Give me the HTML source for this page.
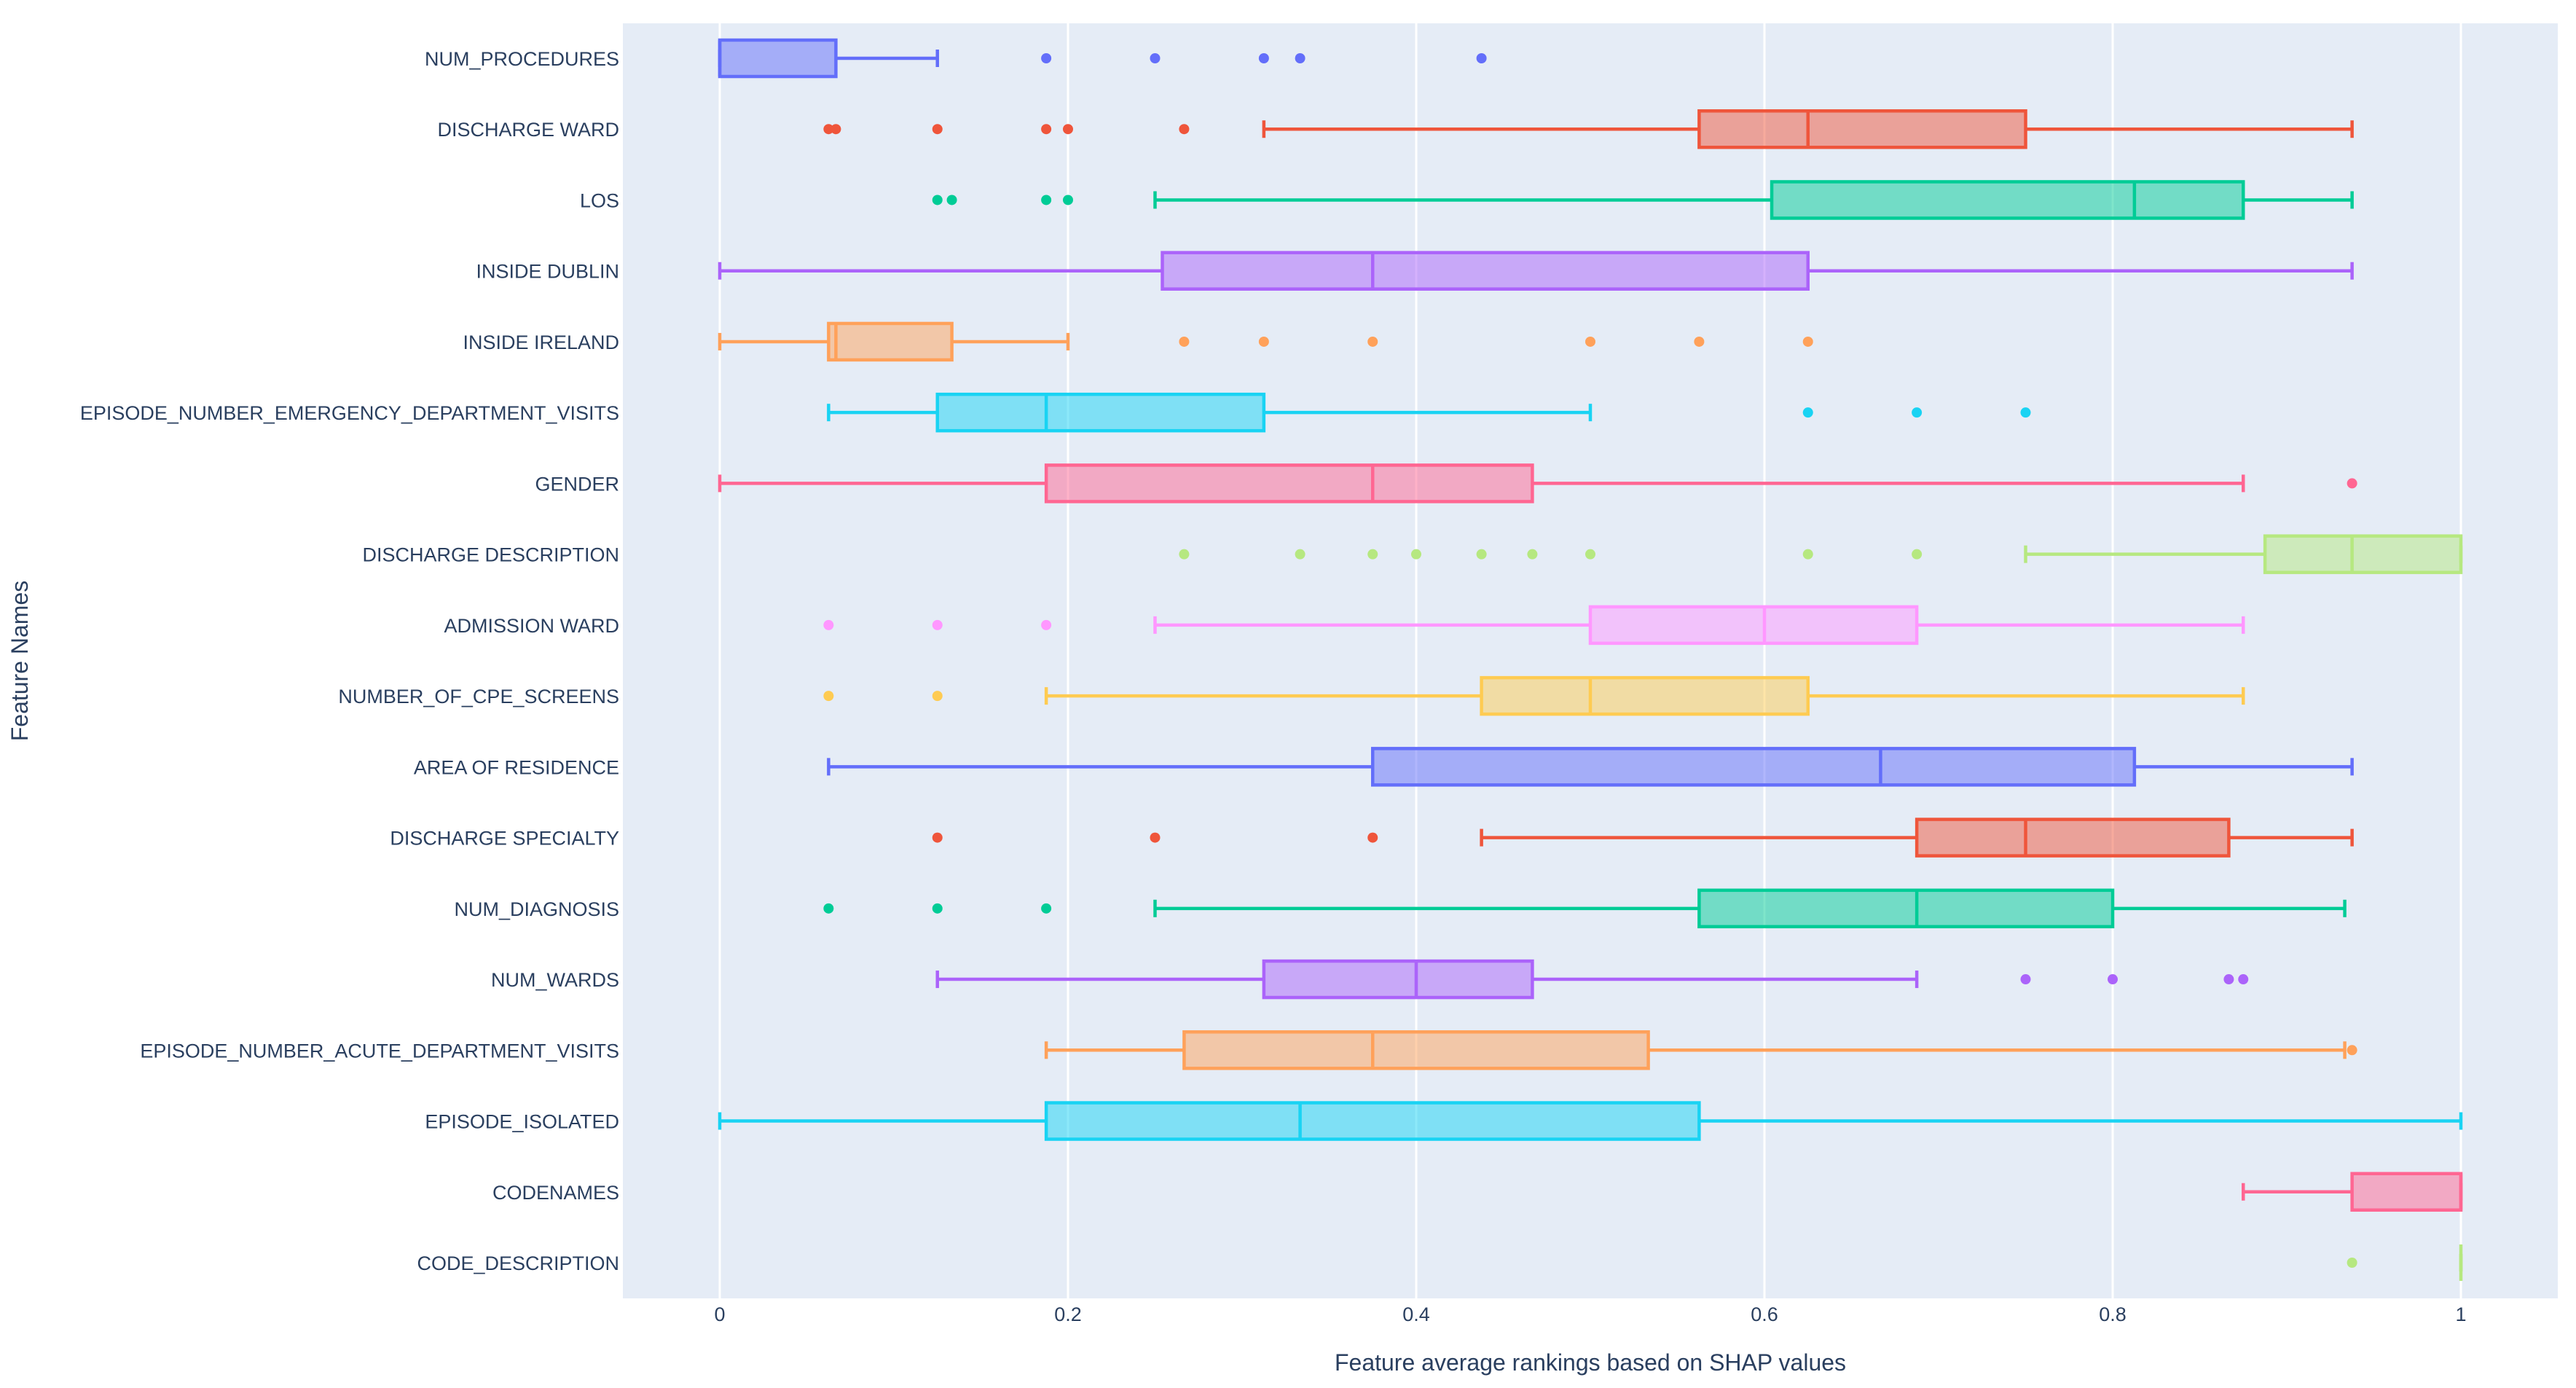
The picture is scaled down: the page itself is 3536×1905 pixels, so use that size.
<!DOCTYPE html>
<html><head><meta charset="utf-8">
<style>
html,body{margin:0;padding:0;background:#fff;}
svg{display:block;font-family:"Liberation Sans",Arial,sans-serif;}
</style></head>
<body>
<svg id="chart" width="3536" height="1905" viewBox="0 0 3536 1905" xmlns="http://www.w3.org/2000/svg">
<rect x="855" y="32" width="2656" height="1750" fill="#e5ecf6"/>
<g id="grid"></g>
<g id="boxes"></g>
<g id="ylabels"></g>
<g id="xticks"></g>
<text x="2183" y="1881" font-size="32" fill="#2a3f5f" text-anchor="middle">Feature average rankings based on SHAP values</text>
<text x="0" y="0" font-size="32" fill="#2a3f5f" text-anchor="middle" transform="translate(38,907) rotate(-90)">Feature Names</text>
</svg>
<script>
const features = ["NUM_PROCEDURES","DISCHARGE WARD","LOS","INSIDE DUBLIN","INSIDE IRELAND","EPISODE_NUMBER_EMERGENCY_DEPARTMENT_VISITS","GENDER","DISCHARGE DESCRIPTION","ADMISSION WARD","NUMBER_OF_CPE_SCREENS","AREA OF RESIDENCE","DISCHARGE SPECIALTY","NUM_DIAGNOSIS","NUM_WARDS","EPISODE_NUMBER_ACUTE_DEPARTMENT_VISITS","EPISODE_ISOLATED","CODENAMES","CODE_DESCRIPTION"];
const q1 =     [0,0.5625,0.6042,0.2542,0.0625,0.125,0.1875,0.8875,0.5,0.4375,0.375,0.6875,0.5625,0.3125,0.2667,0.1875,0.9375,1];
const median = [0,0.625,0.8125,0.375,0.0667,0.1875,0.375,0.9375,0.6,0.5,0.6667,0.75,0.6875,0.4,0.375,0.3333,1,1];
const q3 =     [0.0667,0.75,0.875,0.625,0.1333,0.3125,0.4667,1,0.6875,0.625,0.8125,0.8667,0.8,0.4667,0.5333,0.5625,1,1];
const lowerFence = [0,0.3125,0.25,0,0,0.0625,0,0.75,0.25,0.1875,0.0625,0.4375,0.25,0.125,0.1875,0,0.875,1];
const upperFence = [0.125,0.9375,0.9375,0.9375,0.2,0.5,0.875,1,0.875,0.875,0.9375,0.9375,0.9333,0.6875,0.9333,1,1,1];
const outliers = [
 [0.1875,0.25,0.3125,0.3333,0.4375],
 [0.0625,0.0667,0.125,0.1875,0.2,0.2667],
 [0.125,0.1333,0.1875,0.2],
 [],
 [0.2667,0.3125,0.375,0.5,0.5625,0.625],
 [0.625,0.6875,0.75],
 [0.9375],
 [0.2667,0.3333,0.375,0.4,0.4375,0.4667,0.5,0.625,0.6875],
 [0.0625,0.125,0.1875],
 [0.0625,0.125],
 [],
 [0.125,0.25,0.375],
 [0.0625,0.125,0.1875],
 [0.75,0.8,0.8667,0.875],
 [0.9375],
 [],
 [],
 [0.9375]
];
const xTicks = [0,0.2,0.4,0.6,0.8,1];
const xTickLabels = ["0","0.2","0.4","0.6","0.8","1"];
const colors = ["#636efa","#EF553B","#00cc96","#ab63fa","#FFA15A","#19d3f3","#FF6692","#B6E880","#FF97FF","#FECB52"];

const NS="http://www.w3.org/2000/svg";
const X = v => 988 + v*(3378-988);
const Y = i => 80 + i*(1733-80)/17;
function mk(tag, attrs, parent){const e=document.createElementNS(NS,tag);for(const k in attrs)e.setAttribute(k,attrs[k]);parent.appendChild(e);return e;}
const grid=document.getElementById('grid'), boxes=document.getElementById('boxes'), yl=document.getElementById('ylabels'), xt=document.getElementById('xticks');

xTicks.forEach((t,i)=>{
  const g=mk('line',{x1:X(t),x2:X(t),y1:32,y2:1782,stroke:'#fff','stroke-width':3},grid);
  
  
  const tx=mk('text',{x:X(t),y:1813,'font-size':27,fill:'#2a3f5f','text-anchor':'middle'},xt);
  tx.textContent=xTickLabels[i];
  
  
});

features.forEach((f,i)=>{
  const y=Y(i), c=colors[i%colors.length], h=25, cap=12;
  const lab=mk('text',{x:850,y:y+10,'font-size':27,fill:'#2a3f5f','text-anchor':'end'},yl);
  lab.textContent=f;
  
  
  const g=mk('g',{},boxes);
  
  
  const sw=4.5;
  mk('line',{x1:X(lowerFence[i]),x2:X(q1[i]),y1:y,y2:y,stroke:c,'stroke-width':sw},g);
  mk('line',{x1:X(q3[i]),x2:X(upperFence[i]),y1:y,y2:y,stroke:c,'stroke-width':sw},g);
  mk('line',{x1:X(lowerFence[i]),x2:X(lowerFence[i]),y1:y-cap,y2:y+cap,stroke:c,'stroke-width':sw},g);
  mk('line',{x1:X(upperFence[i]),x2:X(upperFence[i]),y1:y-cap,y2:y+cap,stroke:c,'stroke-width':sw},g);
  mk('rect',{x:X(q1[i]),y:y-h,width:Math.max(0,X(q3[i])-X(q1[i])),height:2*h,fill:c,'fill-opacity':0.5,stroke:c,'stroke-width':sw},g);
  mk('line',{x1:X(median[i]),x2:X(median[i]),y1:y-h,y2:y+h,stroke:c,'stroke-width':sw},g);
  outliers[i].forEach(o=>{
    const p=mk('circle',{cx:X(o),cy:y,r:7,fill:c},g);
    
    
  });
});
</script>
</body></html>
